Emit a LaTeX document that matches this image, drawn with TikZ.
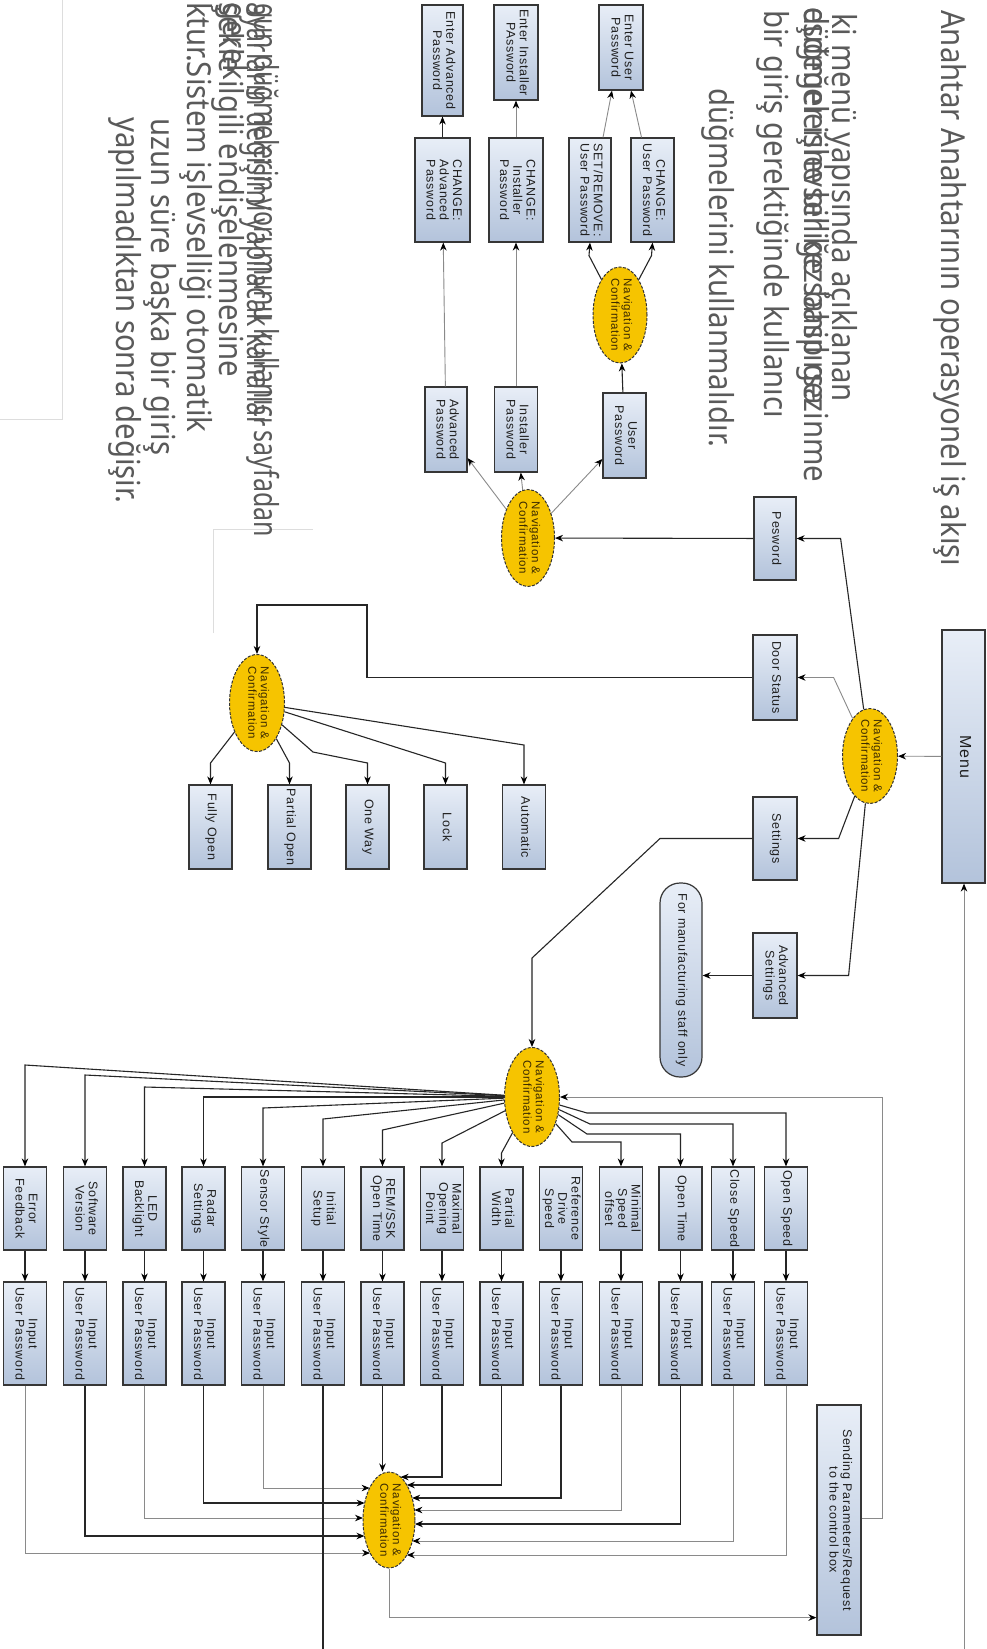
\documentclass[tikz,border=0pt]{standalone}
\usepackage{fontspec}
\usetikzlibrary{arrows.meta,shapes.geometric,calc}
\newfontfamily\bfnt[LetterSpace=6]{Liberation Sans}
\newfontfamily\tfnt[FakeStretch=0.89]{Noto Sans}
\definecolor{boxtop}{HTML}{E8EEF7}
\definecolor{boxbot}{HTML}{B3C3DB}
\definecolor{boxln}{HTML}{363636}
\definecolor{navfill}{HTML}{F6C400}
\definecolor{navtxt}{HTML}{3B2A00}
\definecolor{lnd}{HTML}{262626}
\definecolor{lng}{HTML}{8A8A8A}
\definecolor{txtg}{HTML}{5A5A5A}
\definecolor{faintc}{HTML}{DDDDDD}
\newcommand{\rt}[1]{\makebox[0pt]{\smash{\raisebox{0.5\depth}{\rotatebox{-90}{\begin{tabular}{@{}c@{}}#1\end{tabular}}}}}}
\begin{document}
\begin{tikzpicture}[x=1pt,y=-1pt,
  bx/.style={draw=boxln, line width=1.2pt, top color=boxtop, bottom color=boxbot, rectangle, inner sep=0pt, text=black!88, font=\bfnt\fontsize{12.5}{13.3}\selectfont},
  nv/.style={ellipse, draw=black!80, dash pattern=on 3pt off 1.5pt, line width=1pt, fill=navfill, inner sep=0pt, text=navtxt, font=\bfnt\fontsize{11.5}{12.5}\selectfont},
  ar/.style={-{Stealth[length=8pt,width=6.5pt,color=black]}},
  dk/.style={draw=lnd, line width=1.1pt},
  gy/.style={draw=lng, line width=0.9pt},
  tx/.style={font=\tfnt\fontsize{33}{36}\selectfont, text=txtg, inner sep=0pt, rotate=-90},
  faint/.style={draw=faintc, line width=0.8pt}]
\useasboundingbox (0,0) rectangle (986,1649);
\fill[white] (0,0) rectangle (986,1649);
\clip (0,0) rectangle (986,1649);

% faint frame remnants
\draw[faint] (62,0) -- (62,419) -- (0,419);
\draw[faint] (213,633) -- (213,529) -- (313,529);

% texts
\node[tx, anchor=mid west] (t1) at (944,10) {Anahtar Anahtarının operasyonel iş akışı};
\node[tx, anchor=mid west] (t2) at (835,13) {ki menü yapısında açıklanan};
\node[tx, anchor=mid west] (t3a) at (807,7) {eşdeğer işlevselliğe sahip gezinme};
\node[tx, anchor=mid west] (t3b) at (807,7) {düğmelerine bir kez basılırsa};
\node[tx, anchor=mid west] (t4) at (767,10) {bir giriş gerektiğinde kullanıcı};
\node[tx, anchor=mid west] (t5) at (712,88) {düğmelerini kullanmalıdır.};
\node[tx, anchor=mid west] (tA1) at (257,3) {\scalebox{0.85}[1]{gun düğmelerin yorumunu kullanıcı sayfadan}};
\node[tx, anchor=mid west] (tA2) at (250,2) {\scalebox{0.85}[1]{ayarların değişimi yapılacak kanallar}};
\node[tx, anchor=mid west] (tB1) at (222,2) {şekle ilgili endişelenmesine};
\node[tx, anchor=mid west] (tB2) at (226,2) {gerek};
\node[tx, anchor=mid west] (tC) at (190,2) {ktur.Sistem işlevselliği otomatik};
\node[tx, anchor=mid west] (tD) at (154,118) {uzun süre başka bir giriş};
\node[tx, anchor=mid west] (tE) at (119,117) {yapılmadıktan sonra değişir.};

% password section
\node[bx, minimum width=41, minimum height=111] (entAdv) at (442.5,60.5) {\rt{Enter Advanced\\Password}};
\node[bx, minimum width=55, minimum height=104] (chgAdv) at (442.5,190) {\rt{CHANGE:\\Advanced\\Password}};
\node[bx, minimum width=42, minimum height=85] (adv) at (446,429.5) {\rt{Advanced\\Password}};
\node[bx, minimum width=44, minimum height=95] (entInst) at (516,52.5) {\rt{Enter Installer\\PAssword}};
\node[bx, minimum width=54, minimum height=104] (chgInst) at (516,190) {\rt{CHANGE:\\Installer\\Password}};
\node[bx, minimum width=43, minimum height=85] (inst) at (516,429.5) {\rt{Installer\\Password}};
\node[bx, minimum width=44, minimum height=85] (entUser) at (621,47.5) {\rt{Enter User\\Password}};
\node[bx, minimum width=43, minimum height=104] (chgUser) at (652.5,190) {\rt{CHANGE:\\User Password}};
\node[bx, minimum width=42, minimum height=104] (setUser) at (590,190) {\rt{SET/REMOVE:\\User Password}};
\node[nv, minimum width=54, minimum height=96] (navUser) at (620,315) {\rt{Navigation \&\\Confirmation}};
\node[bx, minimum width=43, minimum height=85] (user) at (624.5,435.5) {\rt{User\\Password}};
\node[nv, minimum width=53, minimum height=97] (navPw) at (528,538) {\rt{Navigation \&\\Confirmation}};
\node[bx, minimum width=42, minimum height=83] (pes) at (775,538.5) {\rt{Pesword}};
\node[bx, minimum width=44, minimum height=85] (door) at (775,677.5) {\rt{Door Status}};
\node[bx, minimum width=44, minimum height=83] (sett) at (775,838.5) {\rt{Settings}};
\node[bx, minimum width=44, minimum height=85] (advs) at (775,975.5) {\rt{Advanced\\Settings}};
\node[bx, rounded corners=20pt, minimum width=42, minimum height=194] (manuf) at (681,980) {\rt{For manufacturing staff only}};
\node[bx, minimum width=43, minimum height=253, font=\bfnt\fontsize{16}{17}\selectfont] (menu) at (963.5,756.5) {\rt{Menu}};
\node[nv, minimum width=55, minimum height=95] (nav1) at (870,756) {\rt{Navigation \&\\Confirmation}};

% door status submenu
\node[nv, minimum width=55, minimum height=97] (nav2) at (257,703) {\rt{Navigation \&\\Confirmation}};
\node[bx, minimum width=43, minimum height=84] (auto) at (524,827) {\rt{Automatic}};
\node[bx, minimum width=43, minimum height=84] (lock) at (445.5,827) {\rt{Lock}};
\node[bx, minimum width=43, minimum height=84] (oneway) at (367.5,827) {\rt{One Way}};
\node[bx, minimum width=43, minimum height=84] (popen) at (289.5,827) {\rt{Partial Open}};
\node[bx, minimum width=43, minimum height=84] (fopen) at (210.5,827) {\rt{Fully Open}};

% settings submenu
\node[nv, minimum width=55, minimum height=99] (nav3) at (532,1097) {\rt{Navigation \&\\Confirmation}};
\node[bx, minimum width=43, minimum height=83] (err1) at (25,1208.5) {\rt{Error\\Feedback}};
\node[bx, minimum width=43, minimum height=83] (sw1) at (85,1208.5) {\rt{Software\\Version}};
\node[bx, minimum width=43, minimum height=83] (led1) at (144.5,1208.5) {\rt{LED\\Backlight}};
\node[bx, minimum width=43, minimum height=83] (radar1) at (203.5,1208.5) {\rt{Radar\\Settings}};
\node[bx, minimum width=43, minimum height=83] (sensor1) at (263,1208.5) {\rt{Sensor Style}};
\node[bx, minimum width=43, minimum height=83] (init1) at (323,1208.5) {\rt{Initial\\Setup}};
\node[bx, minimum width=43, minimum height=83] (rem1) at (382.5,1208.5) {\rt{REM/SSK\\Open Time}};
\node[bx, minimum width=43, minimum height=83] (max1) at (442,1208.5) {\rt{Maximal\\Opening\\Point}};
\node[bx, minimum width=43, minimum height=83] (pw1) at (501.5,1208.5) {\rt{Partial\\Width}};
\node[bx, minimum width=43, minimum height=83] (ref1) at (561,1208.5) {\rt{Reference\\Drive\\Speed}};
\node[bx, minimum width=43, minimum height=83] (min1) at (621,1208.5) {\rt{Minimal\\Speed\\offset}};
\node[bx, minimum width=43, minimum height=83] (otime1) at (680.5,1208.5) {\rt{Open Time}};
\node[bx, minimum width=43, minimum height=83] (close1) at (733,1208.5) {\rt{Close Speed}};
\node[bx, minimum width=43, minimum height=83] (ospeed1) at (786,1208.5) {\rt{Open Speed}};
\foreach \n/\x in {err/25, sw/85, led/144.5, radar/203.5, sensor/263, init/323, rem/382.5, max/442, pw/501.5, ref/561, min/621, otime/680.5, close/733, ospeed/786}{
  \node[bx, minimum width=43, minimum height=103] (\n2) at (\x,1333.5) {\rt{Input\\User Password}};
  \draw[ar,dk] (\n1) -- (\n2);
}
\node[nv, minimum width=52, minimum height=96] (nav4) at (389,1520) {\rt{Navigation \&\\Confirmation}};
\node[bx, minimum width=44, minimum height=230] (send) at (839,1520) {\rt{Sending Parameters/Request\\to the control box}};
\coordinate (bot) at (964,1649);

% connectors: password section
\draw[ar,gy] (adv) -- (chgAdv);
\draw[ar,dk] (chgAdv) -- (entAdv);
\draw[ar,gy] (inst) -- (chgInst);
\draw[ar,gy] (chgInst) -- (entInst);
\draw[ar,dk] (user) -- (navUser);
\draw[ar,dk] (navUser) -- ($(chgUser.south)+(-1,13)$) -- (chgUser.south);
\draw[ar,dk] (navUser) -- ($(setUser.south)+(-1,13)$) -- (setUser.south);
\draw[ar,gy] ($(chgUser.north)+(-11,0)$) -- ($(entUser.south)+(10,0)$);
\draw[ar,gy] ($(setUser.north)+(13,0)$) -- ($(entUser.south)+(-9,0)$);
\draw[ar,gy] (navPw) -- (adv);
\draw[ar,gy] (navPw) -- (inst);
\draw[ar,gy] (navPw) -- (user);
\draw[ar,dk] (pes) -- (navPw);

% main menu
\draw[ar,gy] (menu) -- (nav1);
\draw[ar,dk] (nav1) -- ($(pes.east)+(44,0)$) -- (pes.east);
\draw[ar,gy] (nav1) -- ($(door.east)+(36,0)$) -- (door.east);
\draw[ar,dk] (nav1) -- ($(sett.east)+(41,0)$) -- (sett.east);
\draw[ar,dk] (nav1) -- ($(advs.east)+(51,0)$) -- (advs.east);
\draw[ar,dk] (advs.west) -- (advs.west -| manuf.east);
\draw[ar,gy] (bot) -- (bot |- menu.south);

% door status
\draw[ar,dk] (door.west) -- (367,677.5) -- (367,605) -- (nav2.north |- 0,605) -- (nav2.north);
\draw[ar,dk] (nav2) -- (fopen.north |- 0,763) -- (fopen.north);
\draw[ar,dk] (nav2) -- (popen.north |- 0,763) -- (popen.north);
\draw[ar,dk] (nav2) -- (313,752) -- (oneway.north |- 0,763) -- (oneway.north);
\draw[ar,dk] (nav2) -- (lock.north |- 0,763) -- (lock.north);
\draw[ar,dk] (nav2) -- (auto.north |- 0,745) -- (auto.north);

% settings
\draw[ar,dk] (sett.west) -- (660,838.5) -- (nav3.north |- 0,958) -- (nav3.north);
\foreach \n/\yc in {err/1065, sw/1075, led/1087, radar/1097, sensor/1108, init/1119, rem/1130, max/1143, pw/1153}{
  \draw[ar,dk] (nav3) -- (\n1.north |- 0,\yc) -- (\n1.north);
}
\draw[ar,dk] (nav3) -- (572,1142) -- (min1.north |- 0,1142) -- (min1.north);
\draw[ar,dk] (nav3) -- (587,1134) -- (otime1.north |- 0,1134) -- (otime1.north);
\draw[ar,dk] (nav3) -- (590,1124) -- (close1.north |- 0,1124) -- (close1.north);
\draw[ar,dk] (nav3) -- (587,1113) -- (ospeed1.north |- 0,1113) -- (ospeed1.north);

% inputs to nav4
\draw[ar,gy] (sensor2.south) |- ($(nav4.center)+(-19.4,-32)$);
\draw[ar,dk] (radar2.south) |- ($(nav4.center)+(-24.3,-17)$);
\draw[ar,gy] (led2.south) |- ($(nav4.center)+(-26,-2)$);
\draw[ar,dk] (sw2.south) |- ($(nav4.center)+(-24.5,16)$);
\draw[ar,gy] (err2.south) |- ($(nav4.center)+(-18.9,33)$);
\draw[ar,dk] (rem2.south) -- (rem2.south |- nav4.north);
\draw[ar,dk] (max2.south) |- ($(nav4.center)+(11.6,-43)$);
\draw[ar,dk] (pw2.south) |- ($(nav4.center)+(17.8,-35)$);
\draw[ar,dk] (ref2.south) |- ($(nav4.center)+(23.1,-22)$);
\draw[ar,gy] (min2.south) |- ($(nav4.center)+(25.4,-10)$);
\draw[ar,dk] (otime2.south) |- ($(nav4.center)+(25.9,4)$);
\draw[ar,gy] (close2.south) |- ($(nav4.center)+(23.4,21)$);
\draw[ar,gy] (ospeed2.south) |- ($(nav4.center)+(17.8,35)$);
\draw[dk] (init2.south) -- (init2.south |- bot);
\draw[ar,gy] (nav4.south) |- ($(send.south west)+(0,-18)$);
\draw[ar,gy] (send.east |- 0,1518) -- (882,1518) -- (882,1097) -- (nav3.east);
\end{tikzpicture}
\end{document}
